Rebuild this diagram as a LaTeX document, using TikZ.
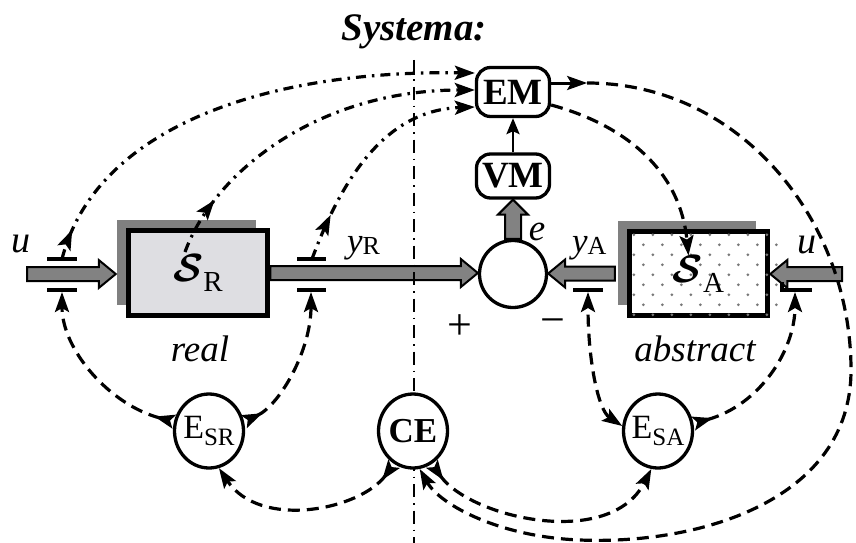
\documentclass[tikz,border=0pt]{standalone}
\usepackage{fontspec}
\setmainfont{Liberation Serif}
\usetikzlibrary{arrows.meta,shapes.geometric,shadows,calc,decorations.markings}
\definecolor{shadegray}{RGB}{128,128,128}
\definecolor{fatgray}{RGB}{130,130,130}
\definecolor{marble}{RGB}{222,222,226}
\definecolor{dotgray}{RGB}{120,120,120}
\newcommand\fs[1]{\fontsize{#1}{#1}\selectfont}
\newcommand\calS{\resizebox{!}{27pt}{\boldmath\(\mathcal{S}\)}}
\newcommand\hfat[2]{\draw[fatarrow] let \p1=#1, \p2=#2, \n1={ifthenelse(\x2>\x1,1,-1)}, \n2={\x2-\n1*17pt} in
 ({\x1},{\y1+7pt}) -- ({\n2},{\y1+7pt}) -- ({\n2},{\y1+14pt}) -- ({\x2},{\y1})
 -- ({\n2},{\y1-14pt}) -- ({\n2},{\y1-7pt}) -- ({\x1},{\y1-7pt}) -- cycle;}
\tikzset{
 fatarrow/.style={fill=fatgray, draw=black, line width=2pt, line join=miter},
 blk/.style={rectangle, draw=black, line width=5.5pt, inner sep=0pt,
   general shadow={fill=shadegray, shadow xshift=-12pt, shadow yshift=11pt}},
 rnd/.style={rectangle, rounded corners=14pt, draw, line width=3.3pt, fill=white,
   minimum width=73pt, inner sep=0pt, font=\fs{37}\bfseries},
 ell/.style={ellipse, draw, line width=3.3pt, fill=white, minimum width=69pt,
   minimum height=74pt, inner sep=0pt},
 lab/.style={inner sep=0pt},
 vline/.style={line width=1.9pt, dash pattern=on 13pt off 6pt on 1.5pt off 6pt},
 dd/.style={line width=3.2pt, dash pattern=on 10pt off 6pt on 2.5pt off 6pt},
 ds/.style={line width=3.2pt, dash pattern=on 12pt off 7pt},
 tapbar/.style={line width=3.8pt},
 tipe/.style={arrows={-Stealth[length=20pt,width=14pt,inset=4pt]}},
 tipst/.style={arrows={Stealth[length=20pt,width=14pt,inset=4pt,reversed]-Stealth[length=20pt,width=14pt,inset=4pt]}},
 tipb/.style={arrows={Stealth[length=20pt,width=14pt,inset=4pt]-Stealth[length=20pt,width=14pt,inset=4pt]}},
 midtip/.style={postaction={decorate,decoration={markings,
   mark=at position #1 with {\arrow{Stealth[length=20pt,width=14pt,inset=4pt]}}}}}
}
\begin{document}
\begin{tikzpicture}[x=1pt,y=-1pt]
\useasboundingbox (0,0) rectangle (856,543);
\node[lab, font=\fs{39}\bfseries\itshape, anchor=base] (title) at (414,41) {Systema:};

% blocks
\node[blk, fill=marble, minimum width=139pt, minimum height=85pt] (SR) at (198,273)
  {\calS\raisebox{-10pt}{\fs{29}R}};
\node[blk, fill=white, minimum width=138pt, minimum height=84pt] (SA) at (698.5,273.5) {};
\foreach \ii in {0,...,8}{\foreach \jj in {0,...,7}{
  \pgfmathsetmacro\dx{\jj*19+mod(\ii,2)*9.5+7}
  \pgfmathsetmacro\dy{\ii*10+6}
  \fill[dotgray] ([shift={(\dx,\dy)}]SA.north west) circle[radius=1.5pt];}}
\node[lab] at (SA.center) {\calS\raisebox{-10pt}{\fs{29}A}};

\node[circle, draw, line width=3.3pt, fill=white, minimum size=67pt, inner sep=0pt] (sum) at (513,274) {};
\node[rnd, minimum height=49pt] (EM) at (513,92) {EM};
\node[rnd, minimum height=44pt] (VM) at (513,176) {VM};
\draw[line width=2.8pt, -{Stealth[length=16pt,width=13pt,inset=3pt]}] (VM) -- (EM);

% fat arrows
\coordinate (uL) at (27,274);
\coordinate (uR) at (842,274);
\hfat{(uL)}{([xshift=-10pt]SR.west)}
\hfat{(SR.east)}{(sum.west)}
\hfat{([xshift=-12pt]SA.west)}{(sum.east)}
\hfat{(uR)}{(SA.east)}
\draw[fatarrow] let \p1=(sum.north), \p2=(VM.south) in
 ({\x1-8pt},{\y1}) -- ({\x1-8pt},{\y2-15pt}) -- ({\x1-15pt},{\y2-15pt}) -- ({\x1},{\y2})
 -- ({\x1+15pt},{\y2-15pt}) -- ({\x1+8pt},{\y2-15pt}) -- ({\x1+8pt},{\y1}) -- cycle;

% system boundary
\coordinate (vt) at (414,60);
\coordinate (vb) at (414,543);
\draw[vline] (vt) -- (vb);

% evaluators
\node[ell] (ESR) at (209,431) {\makebox[40pt]{\fs{34}E\raisebox{-7pt}{\fs{25}SR}}};
\node[ell, font=\fs{35}\bfseries] (CE) at (413,431) {CE};
\node[ell] (ESA) at (658,431) {\makebox[40pt]{\fs{34}E\raisebox{-7pt}{\fs{25}SA}}};

% taps
\draw[tapbar] (47,259) -- (77,259);
\draw[tapbar] (47,290) -- (77,290);
\draw[tapbar] (297,259) -- (326,259);
\draw[tapbar] (297,290) -- (326,290);
\draw[tapbar] (573,290) -- (603,290);
\draw[tapbar] (782,282) -- (782,290) -- (812,290);

\coordinate (tUa) at (62,259);
\coordinate (tUb) at (62,292);
\coordinate (tRa) at (312,259);
\coordinate (tRb) at (311,292);
\coordinate (tAb) at (588,292);
\coordinate (tUAb) at (795,292);
\coordinate (bS) at (185,252);

% dash-dot measurement lines to EM
\draw[dd, midtip=31pt, tipe] (tUa) .. controls (95,130) and (260,70) .. ([yshift=19pt]EM.west);
\draw[dd, midtip=60pt, tipe] (bS) .. controls (215,170) and (320,90) .. ([yshift=2pt]EM.west);
\draw[dd, midtip=48pt, tipe] (tRa) .. controls (345,170) and (390,110) .. ([yshift=-15pt]EM.west);

% EM outputs
\draw[line width=3pt, tipe] ([yshift=9pt]EM.east) -- ++(36,0) coordinate (d0);
\draw[ds, tipe] (d0) .. controls (740,83) and (851,220) .. (851,370)
  .. controls (851,500) and (700,545) .. (580,540)
  .. controls (500,537) and (440,505) .. (CE.-80);
\draw[ds, tipe] ([yshift=-13pt]EM.east) .. controls (625,125) and (680,170) .. ([shift={(-10,-18)}]SA.center);

% evaluator links
\draw[ds, tipst] (ESR.165) .. controls (110,405) and (62,350) .. (tUb);
\draw[ds, tipst] (ESR.15) .. controls (280,405) and (311,350) .. (tRb);
\draw[ds, tipst] (CE.-120) .. controls (360,510) and (260,530) .. (ESR.-75);
\draw[ds, tipb] (ESA.172) .. controls (598,410) and (588,360) .. (tAb);
\draw[ds, tipst] (ESA.12) .. controls (760,405) and (795,350) .. (tUAb);
\draw[ds, tipst] (CE.-60) .. controls (470,518) and (610,550) .. (ESA.-100);

% labels
\node[lab, font=\fs{38}\itshape, anchor=base] (lu1) at (21,252) {u};
\node[lab, font=\fs{38}\itshape, anchor=base] (lu2) at (807,253) {u};
\node[lab, anchor=base west] (lyr) at (347,252) {\fs{35}\itshape y\raisebox{-2pt}{\fs{26}\upshape R}};
\node[lab, anchor=base west] (lya) at (572,252) {\fs{35}\itshape y\raisebox{-2pt}{\fs{26}\upshape A}};
\node[lab, font=\fs{37}\itshape, anchor=base] (le) at (537,240) {e};
\node[lab, font=\fs{44}] (lp) at (460,327) {+};
\node[lab, font=\fs{44}] (lm) at (553,327) {−};
\node[lab, font=\fs{37}\itshape, anchor=base] (lreal) at (200,361) {real};
\node[lab, font=\fs{37}\itshape, anchor=base] (labs) at (695,361) {abstract};
\end{tikzpicture}
\end{document}
